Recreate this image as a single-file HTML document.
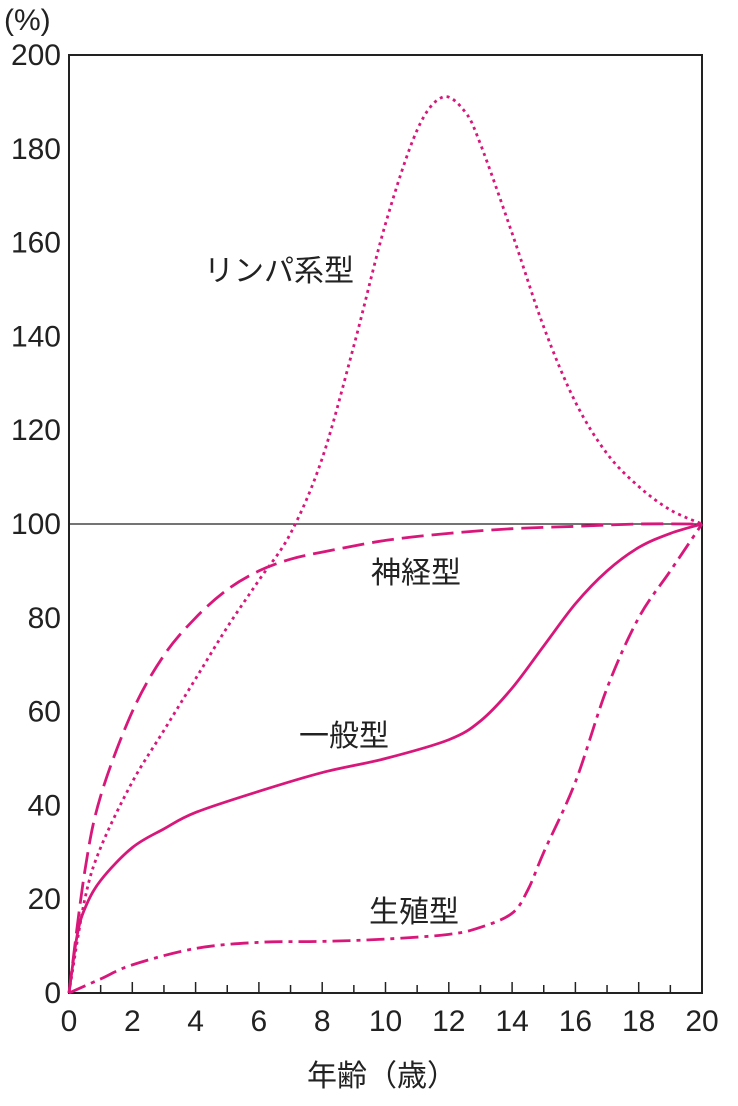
<!DOCTYPE html>
<html><head><meta charset="utf-8">
<style>
html,body{margin:0;padding:0;background:#fff;}
svg{display:block;font-family:"Liberation Sans","Noto Sans CJK JP",sans-serif;}
</style></head>
<body>
<svg id="chart" width="738" height="1106" viewBox="0 0 738 1106">
<text x="4" y="30" font-size="30" fill="#222">(%)</text>
<text x="382" y="1086" font-size="30" text-anchor="middle" fill="#222">年齢（歳）</text>
<g id="axes"></g>
<g id="series"></g>
<text x="204" y="281" font-size="30" fill="#222">リンパ系型</text>
<text x="371" y="583" font-size="30" fill="#222">神経型</text>
<text x="299" y="746" font-size="30" fill="#222">一般型</text>
<text x="369" y="922" font-size="30" fill="#222">生殖型</text>
</svg>
<script>
const xTicks=[0,2,4,6,8,10,12,14,16,18,20];
const yTicks=[0,20,40,60,80,100,120,140,160,180,200];
const lymphX=[0,0.5,1,2,3,4,5,6,7,8,9,10,11,11.8,12.5,13,14,15,16,17,18,19,20];
const lymphY=[0,20,31,45,56,67,78,88,98,114,138,164,184,191,188,181,162,142,126,115,108,103,100];
const neuralX=[0,0.5,1,2,3,4,5,6,7,8,10,12,14,16,18,20];
const neuralY=[0,26,42,60,72,80,86,90,92.5,94,96.5,98,99,99.5,100,100];
const generalX=[0,0.25,0.5,1,2,3,4,6,8,10,12,13,14,15,16,17,18,19,20];
const generalY=[0,12,18,24,31,35,38.5,43,47,50,54,58,65,74,83,90,95,98,100];
const genitalX=[0,1,2,4,6,8,10,12,13,14,14.5,15,16,17,18,19,20];
const genitalY=[0,3,6,9.5,10.8,11,11.5,12.5,14,17,22,30,45,65,80,90,100];

const X0=69,X1=702,Y0=993,Y1=55;
const sx=v=>X0+(X1-X0)*v/20;
const sy=v=>Y0-(Y0-Y1)*v/200;
const NS="http://www.w3.org/2000/svg";
const axes=document.getElementById('axes');
const series=document.getElementById('series');
function mk(tag,attrs,parent){const e=document.createElementNS(NS,tag);for(const k in attrs)e.setAttribute(k,attrs[k]);parent.appendChild(e);return e;}

const frame=mk('rect',{x:X0,y:Y1,width:X1-X0,height:Y0-Y1,fill:'none',stroke:'#222','stroke-width':2},axes);


const ref=mk('line',{x1:X0,x2:X1,y1:sy(100),y2:sy(100),stroke:'#222','stroke-width':1.2},axes);


for(let i=1;i<20;i++){
  const t=mk('line',{x1:sx(i),x2:sx(i),y1:Y0,y2:Y0-(i%2?8:11),stroke:'#222','stroke-width':1.5},axes);
  
  
}
xTicks.forEach(v=>{
  const t=mk('text',{x:sx(v),y:Y0+38,'font-size':30,'text-anchor':'middle',fill:'#222'},axes);
  t.textContent=v;
  
  
});
yTicks.forEach(v=>{
  const t=mk('text',{x:X0-8,y:sy(v)+10,'font-size':30,'text-anchor':'end',fill:'#222'},axes);
  t.textContent=v;
  
  
});
function pathFor(xs,ys){
  const p=xs.map((x,i)=>[sx(x),sy(ys[i])]);
  let d='M'+p[0][0]+','+p[0][1];
  for(let i=0;i<p.length-1;i++){
    const p0=p[Math.max(0,i-1)],p1=p[i],p2=p[i+1],p3=p[Math.min(p.length-1,i+2)];
    const c1=[p1[0]+(p2[0]-p0[0])/6,p1[1]+(p2[1]-p0[1])/6];
    const c2=[p2[0]-(p3[0]-p1[0])/6,p2[1]-(p3[1]-p1[1])/6];
    d+=' C'+c1+' '+c2+' '+p2;
  }
  return d;
}
const C='#d8177a';
const s1=mk('path',{d:pathFor(lymphX,lymphY),fill:'none',stroke:C,'stroke-width':2.8,'stroke-dasharray':'3 4'},series);


const s2=mk('path',{d:pathFor(neuralX,neuralY),fill:'none',stroke:C,'stroke-width':2.8,'stroke-dasharray':'22 8'},series);


const s3=mk('path',{d:pathFor(generalX,generalY),fill:'none',stroke:C,'stroke-width':2.8},series);


const s4=mk('path',{d:pathFor(genitalX,genitalY),fill:'none',stroke:C,'stroke-width':2.8,'stroke-dasharray':'18 6 4 6'},series);


</script>
</body></html>
